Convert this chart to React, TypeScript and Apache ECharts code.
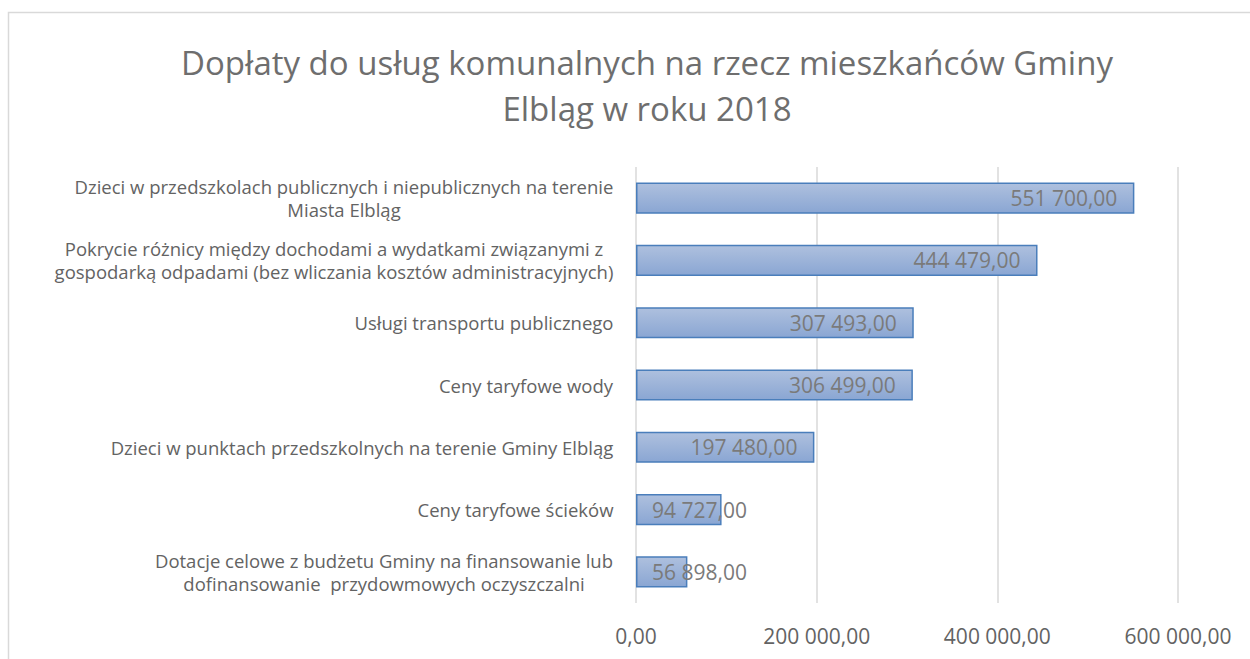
import React, { useEffect, useRef } from "react";
import * as echarts from "echarts";

const titleText = "Dopłaty do usług komunalnych na rzecz mieszkańców Gminy\nElbląg w roku 2018";

const categories = [
  "Dzieci w przedszkolach publicznych i niepublicznych na terenie\nMiasta Elbląg",
  "Pokrycie różnicy między dochodami a wydatkami związanymi z\ngospodarką odpadami (bez wliczania kosztów administracyjnych)",
  "Usługi transportu publicznego",
  "Ceny taryfowe wody",
  "Dzieci w punktach przedszkolnych na terenie Gminy Elbląg",
  "Ceny taryfowe ścieków",
  "Dotacje celowe z budżetu Gminy na finansowanie lub\ndofinansowanie  przydowmowych oczyszczalni",
];

const values = [551700, 444479, 307493, 306499, 197480, 94727, 56898];

const xMin = 0;
const xMax = 600000;
const xInterval = 200000;

const FONT = "'Open Sans', 'Noto Sans', sans-serif";
const CAT_SIZE = 18.5;
const VAL_SIZE = 21;

function fmt(v: number): string {
  const fixed = Math.abs(v).toFixed(2);
  const [intPart, dec] = fixed.split(".");
  const withSpaces = intPart.replace(/\B(?=(\d{3})+(?!\d))/g, " ");
  return (v < 0 ? "-" : "") + withSpaces + "," + dec;
}

let ctx: CanvasRenderingContext2D | null = null;
function measure(text: string, size: number): number {
  if (!ctx) ctx = document.createElement("canvas").getContext("2d");
  if (!ctx) return text.length * size * 0.5;
  ctx.font = `${size}px ${FONT}`;
  return ctx.measureText(text).width;
}

export default function App() {
  const ref = useRef<HTMLDivElement>(null);

  useEffect(() => {
    if (!ref.current) return;
    const chart = echarts.init(ref.current, undefined, { renderer: "svg" });

    const gridLeft = 636;
    const gridRight = 72;
    const plotWidth = 1250 - gridLeft - gridRight;

    const data = values.map((v) => {
      const barPx = ((v - xMin) / (xMax - xMin)) * plotWidth;
      const lw = measure(fmt(v), VAL_SIZE);
      const inside = barPx >= lw + 34;
      return {
        value: v,
        label: inside
          ? { position: "insideRight", distance: 17 }
          : { position: "insideLeft", distance: 16 },
      };
    });

    const catRich: any = {};
    const catLabelWidths = categories.map((c) =>
      Math.max(...c.split("\n").map((l) => measure(l, CAT_SIZE)))
    );
    categories.forEach((c, i) => {
      catRich["c" + i] = {
        width: Math.ceil(catLabelWidths[i]) + 1,
        align: "center",
        fontSize: CAT_SIZE,
        fontFamily: FONT,
        color: "#636363",
        lineHeight: 23,
      };
    });

    chart.setOption({
      animation: false,
      backgroundColor: "#ffffff",
      title: {
        text: titleText,
        left: 642,
        top: 34,
        textAlign: "center",
        textStyle: {
          fontFamily: FONT,
          fontSize: 33,
          fontWeight: "normal",
          color: "#6e6e6e",
          lineHeight: 46,
        },
      },
      graphic: [
        {
          type: "rect",
          shape: { x: 8.5, y: 12.5, width: 1300, height: 700 },
          style: { fill: "none", stroke: "#d9d9d9", lineWidth: 1.5 },
          silent: true,
          z: -10,
        },
      ],
      grid: {
        left: gridLeft,
        right: gridRight,
        top: 167,
        bottom: 56,
        containLabel: false,
      },
      xAxis: {
        type: "value",
        min: xMin,
        max: xMax,
        interval: xInterval,
        axisLine: { show: false },
        axisTick: { show: false },
        splitLine: { show: true, lineStyle: { color: "#d9d9d9", width: 1.5 } },
        axisLabel: {
          formatter: (v: number) => fmt(v),
          fontFamily: FONT,
          fontSize: VAL_SIZE,
          color: "#636363",
          margin: 22,
        },
      },
      yAxis: {
        type: "category",
        data: categories,
        inverse: true,
        axisLine: { show: false },
        axisTick: { show: false },
        axisLabel: {
          margin: 22,
          align: "right",
          formatter: (val: string) => {
            const i = categories.indexOf(val);
            return val
              .split("\n")
              .map((l) => `{c${i}|${l}}`)
              .join("\n");
          },
          rich: catRich,
        },
      },
      series: [
        {
          type: "bar",
          data,
          barWidth: "50%",
          itemStyle: {
            color: new echarts.graphic.LinearGradient(0, 0, 0, 1, [
              { offset: 0, color: "#aec0de" },
              { offset: 1, color: "#8aa6d3" },
            ]),
            borderColor: "#4a7ebb",
            borderWidth: 1.5,
          },
          label: {
            show: true,
            formatter: (p: any) => fmt(p.value),
            fontFamily: FONT,
            fontSize: VAL_SIZE,
            color: "#7a7a7a",
          },
        },
      ],
    });

    return () => chart.dispose();
  }, []);

  return (
    <div
      ref={ref}
      style={{ position: "fixed", left: 0, top: 0, width: 1250, height: 659 }}
    />
  );
}
